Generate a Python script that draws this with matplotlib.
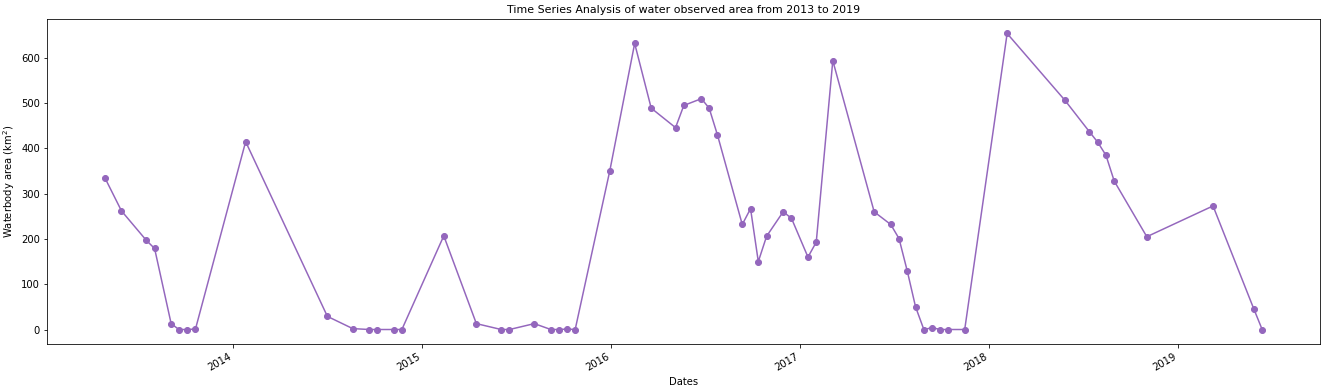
import matplotlib
matplotlib.use("Agg")
import matplotlib.pyplot as plt
import pandas as pd

dates = [
    "2013-04-28", "2013-05-30", "2013-07-17", "2013-08-02", "2013-09-03",
    "2013-09-18", "2013-10-04", "2013-10-20", "2014-01-25", "2014-07-02",
    "2014-08-20", "2014-09-21", "2014-10-06", "2014-11-07", "2014-11-23",
    "2015-02-12", "2015-04-16", "2015-06-03", "2015-06-19", "2015-08-06",
    "2015-09-07", "2015-09-23", "2015-10-08", "2015-10-24", "2015-12-30",
    "2016-02-16", "2016-03-19", "2016-05-05", "2016-05-21", "2016-06-24",
    "2016-07-09", "2016-07-25", "2016-09-11", "2016-09-27", "2016-10-12",
    "2016-10-28", "2016-11-29", "2016-12-15", "2017-01-16", "2017-02-01",
    "2017-03-05", "2017-05-24", "2017-06-25", "2017-07-11", "2017-07-27",
    "2017-08-12", "2017-08-28", "2017-09-13", "2017-09-29", "2017-10-14",
    "2017-11-15", "2018-02-05", "2018-05-28", "2018-07-14", "2018-07-30",
    "2018-08-15", "2018-08-31", "2018-11-02", "2019-03-10", "2019-05-28",
    "2019-06-13",
]
area_km2 = [
    335, 262, 197, 179, 13,
    0, 0, 1, 415, 29,
    2, 0, 0, 0, 0,
    207, 13, 0, 0, 13,
    0, 0, 1, 0, 351,
    632, 489, 446, 495, 510,
    489, 430, 232, 267, 150,
    206, 260, 246, 160, 193,
    594, 260, 232, 201, 129,
    50, 0, 4, 0, 0,
    0, 654, 506, 437, 414,
    385, 328, 205, 273, 45,
    0,
]

x = pd.to_datetime(dates)

fig = plt.figure(figsize=(1326 / 72, 386 / 72), dpi=72)
ax = fig.add_axes([0.0355, 0.108, 0.96, 0.8436])
ax.plot(x, area_km2, color="tab:purple", marker="o", markersize=6, linewidth=1.5)
ax.set_title("Time Series Analysis of water observed area from 2013 to 2019", fontsize=11)
ax.set_xlabel("Dates", fontsize=10)
ax.set_ylabel("Waterbody area (km$^2$)", fontsize=10)
ax.tick_params(labelsize=10)
for lbl in ax.get_xticklabels():
    lbl.set_rotation(30)
    lbl.set_ha("right")
fig.savefig("out.png", dpi=72)
